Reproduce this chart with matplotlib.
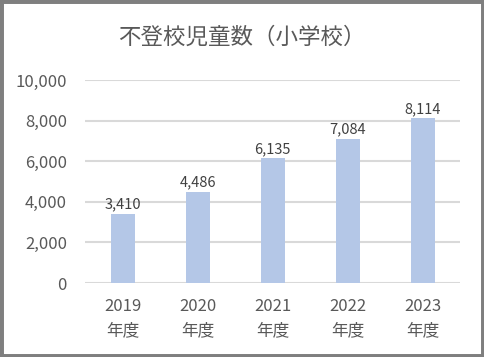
import matplotlib
matplotlib.use('Agg')
import matplotlib.pyplot as plt
from matplotlib.patches import Rectangle

plt.rcParams['font.family'] = ['Noto Sans CJK JP', 'DejaVu Sans']

years = ['2019', '2020', '2021', '2022', '2023']
counts = [3410, 4486, 6135, 7084, 8114]
tick_labels = [y + '\n年度' for y in years]
title = '不登校児童数（小学校）'

text_color = '#595959'
bar_color = '#b4c7e7'
grid_color = '#d9d9d9'

fig = plt.figure(figsize=(4.84, 3.57), dpi=100)
ax = fig.add_axes([85 / 484, 1 - 283 / 357, 375 / 484, 203 / 357])

x = range(len(years))
bars = ax.bar(x, counts, width=0.32, color=bar_color, zorder=2)
for b, v in zip(bars, counts):
    ax.text(b.get_x() + b.get_width() / 2, v + 120, f'{v:,}', ha='center', va='bottom',
            fontsize=10.5, color='#404040')

ax.set_xlim(-0.5, len(years) - 0.5)
ax.set_ylim(0, 10000)
ax.set_yticks(range(0, 10001, 2000))
ax.set_yticklabels([f'{v:,}' for v in range(0, 10001, 2000)], fontsize=12, color=text_color)
ax.set_xticks(list(x))
ax.set_xticklabels(tick_labels, fontsize=12, color=text_color, linespacing=1.5)
ax.tick_params(length=0)
ax.tick_params(axis='x', pad=11)
ax.tick_params(axis='y', pad=13)
ax.grid(axis='y', color=grid_color, linewidth=1.5, zorder=0)
ax.set_axisbelow(True)
for s in ax.spines.values():
    s.set_visible(False)

fig.text(0.5, 1 - 37 / 357, title, ha='center', va='center', fontsize=16.2, color=text_color)

fig.patches.append(Rectangle((0, 0), 1, 1, transform=fig.transFigure, fill=False,
                             edgecolor='#7f7f7f', linewidth=5, zorder=10))

fig.savefig('out.png', dpi=100)
